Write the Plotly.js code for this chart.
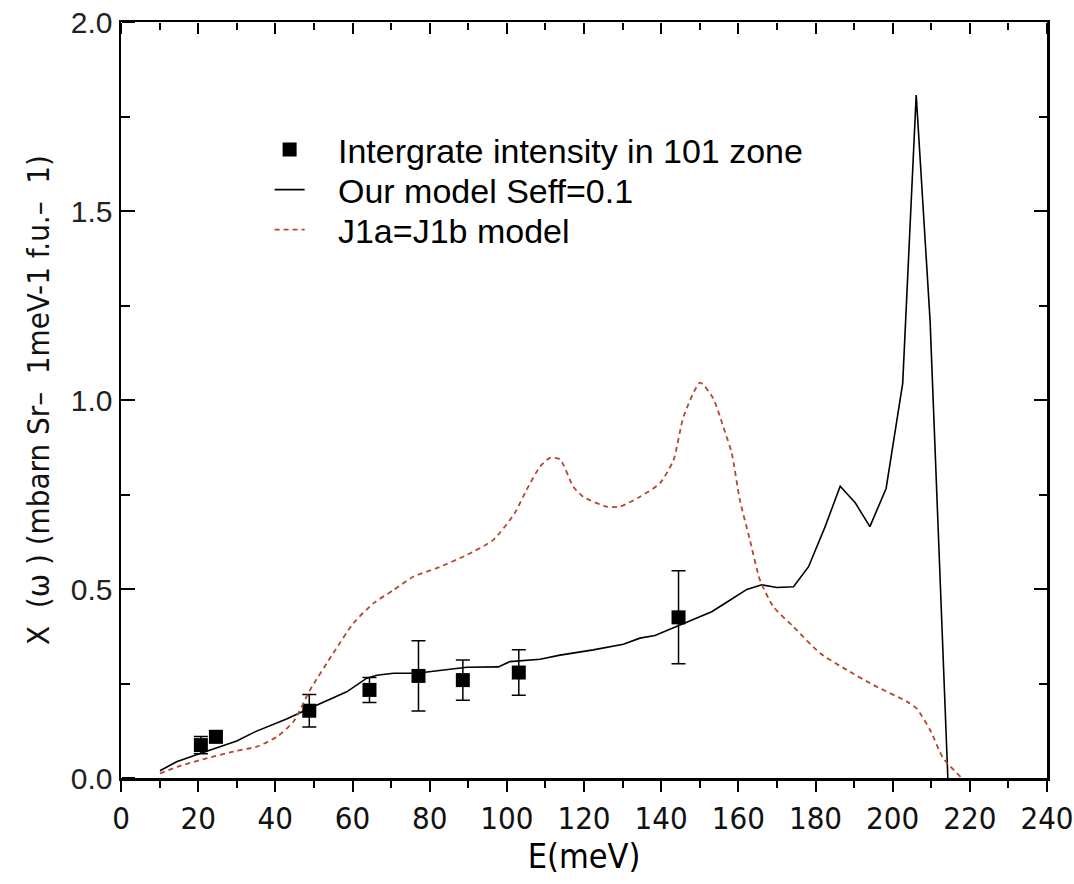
<!DOCTYPE html>
<html>
<head>
<meta charset="utf-8">
<script src="https://cdn.plot.ly/plotly-3.0.1.min.js"></script>
<style>html,body{margin:0;padding:0;background:#fff;}#chart{width:1074px;height:884px;}</style>
</head>
<body>
<div id="chart"></div>
<script>
// Measured data points (Intergrate intensity in 101 zone)
const dataE   = [20.7, 24.6, 48.8, 64.4, 77.1, 88.6, 103.1, 144.5];
const dataI   = [0.087, 0.109, 0.178, 0.233, 0.270, 0.259, 0.279, 0.425];
const dataErr = [0.023, 0.015, 0.043, 0.033, 0.093, 0.053, 0.060, 0.123];

// Our model Seff=0.1
const modelE = [10.1, 14.4, 20.5, 30.0, 34.7, 42.9, 48.8, 58.5, 63.7, 66.3, 70.6, 76.6, 89.6, 97.8, 100.8, 108.6, 113.8, 122.4, 130.2, 134.5, 138.4, 144.9, 153.1, 157.9, 162.2, 166.1, 170.0, 174.3, 178.2, 182.5, 186.4, 190.3, 194.1, 198.3, 202.6, 206.1, 209.7, 214.3];
const modelI = [0.019, 0.043, 0.065, 0.098, 0.122, 0.156, 0.184, 0.228, 0.264, 0.272, 0.277, 0.277, 0.293, 0.294, 0.308, 0.314, 0.325, 0.339, 0.354, 0.370, 0.377, 0.405, 0.440, 0.471, 0.499, 0.511, 0.504, 0.506, 0.559, 0.665, 0.772, 0.728, 0.665, 0.766, 1.044, 1.807, 1.210, 0.000];

// J1a=J1b model
const j1E = [10.1, 15.3, 22.2, 29.1, 35.2, 40.4, 44.7, 49.0, 55.0, 60.2, 65.4, 70.6, 75.8, 81.8, 89.6, 96.5, 102.0, 105.0, 108.6, 111.2, 113.8, 117.2, 119.8, 125.9, 129.3, 134.5, 139.7, 143.2, 145.8, 150.1, 153.5, 156.1, 158.3, 160.4, 163.0, 165.6, 169.1, 174.3, 181.2, 188.1, 195.0, 203.7, 206.2, 209.7, 213.1, 217.6];
const j1I = [0.012, 0.032, 0.052, 0.070, 0.083, 0.109, 0.149, 0.233, 0.330, 0.409, 0.462, 0.497, 0.533, 0.555, 0.590, 0.630, 0.700, 0.760, 0.824, 0.847, 0.843, 0.771, 0.744, 0.718, 0.718, 0.744, 0.780, 0.841, 0.956, 1.046, 1.004, 0.929, 0.859, 0.735, 0.630, 0.524, 0.453, 0.400, 0.330, 0.286, 0.246, 0.202, 0.184, 0.127, 0.052, 0.003];

const seriesNames = ['Intergrate intensity in 101 zone', 'Our model Seff=0.1', 'J1a=J1b model'];

const xTickVals = [0,20,40,60,80,100,120,140,160,180,200,220,240];
const yTickVals = [0.0,0.5,1.0,1.5,2.0];

const narrow = 'Liberation Sans Narrow, DejaVu Sans Condensed, Arial Narrow, sans-serif';
const regular = 'Liberation Sans, Arial, sans-serif';
const pad = '\u00a0\u00a0\u00a0';

const traces = [
  {
    x: dataE, y: dataI, type: 'scatter', mode: 'markers',
    name: pad + seriesNames[0], legend: 'legend',
    marker: {symbol: 'square', size: 14, color: '#000'},
    error_y: {type: 'data', array: dataErr, visible: true, color: '#000', thickness: 1.5, width: 7}
  },
  {
    x: modelE, y: modelI, type: 'scatter', mode: 'lines',
    name: pad + seriesNames[1], legend: 'legend2',
    line: {color: '#000', width: 1.6}
  },
  {
    x: j1E, y: j1I, type: 'scatter', mode: 'lines',
    name: pad + seriesNames[2], legend: 'legend3',
    line: {color: '#b5472f', width: 1.8, dash: '5px,4px', shape: 'spline', smoothing: 0.6}
  },
  // invisible helpers so the extra tick-only axes are rendered
  {x: [modelE[0]], y: [modelI[0]], xaxis: 'x', yaxis: 'y2', type: 'scatter', mode: 'markers',
   marker: {opacity: 0}, showlegend: false, hoverinfo: 'skip'},
  {x: [modelE[0]], y: [modelI[0]], xaxis: 'x3', yaxis: 'y', type: 'scatter', mode: 'markers',
   marker: {opacity: 0}, showlegend: false, hoverinfo: 'skip'}
];

function leg(y) {
  return {
    x: 0.1605, y: y, xanchor: 'left', yanchor: 'middle',
    bgcolor: 'rgba(0,0,0,0)', borderwidth: 0,
    font: {family: regular, size: 34, color: '#000'}
  };
}

const layout = {
  width: 1074, height: 884,
  margin: {l: 121, r: 27, t: 22, b: 106},
  showlegend: true,
  legend: leg(0.8307),
  legend2: leg(0.7778),
  legend3: leg(0.7249),
  xaxis: {
    range: [0, 240], tickvals: xTickVals,
    ticks: 'outside', ticklen: 11, tickwidth: 2, tickcolor: '#000',
    minor: {dtick: 10, ticks: 'outside', ticklen: 7, tickwidth: 2, tickcolor: '#000'},
    showline: true, linewidth: 2.5, linecolor: '#000', mirror: true,
    showgrid: false, zeroline: false,
    tickfont: {family: narrow, size: 31, color: '#111'},
    title: {text: 'E(meV)', font: {family: narrow, size: 34, color: '#000'}, standoff: 10}
  },
  // tick-only axis sitting on the top edge, ticks pointing down into the plot
  xaxis3: {
    overlaying: 'x', side: 'bottom', anchor: 'free', position: 1, range: [0, 240],
    tickvals: xTickVals, showticklabels: false,
    ticks: 'outside', ticklen: 11, tickwidth: 2, tickcolor: '#000',
    minor: {dtick: 10, ticks: 'outside', ticklen: 7, tickwidth: 2, tickcolor: '#000'},
    showline: false, showgrid: false, zeroline: false
  },
  yaxis: {
    range: [0, 2.0], tickvals: yTickVals, tickformat: '.1f',
    ticks: 'inside', ticklen: 13, tickwidth: 2, tickcolor: '#000',
    minor: {dtick: 0.25, ticks: 'inside', ticklen: 8, tickwidth: 2, tickcolor: '#000'},
    showline: true, linewidth: 2.5, linecolor: '#000', mirror: 'ticks',
    showgrid: false, zeroline: false,
    tickfont: {family: regular, size: 30, color: '#222'},
    title: {text: 'X  (ω ) (mbarn Sr–  1meV-1 f.u.–  1)', font: {family: narrow, size: 31, color: '#111'}, standoff: 12}
  },
  // tick-only axis sitting on the left edge, ticks pointing right into the plot
  yaxis2: {
    overlaying: 'y', side: 'right', anchor: 'free', position: 0, range: [0, 2.0],
    tickvals: yTickVals, showticklabels: false,
    ticks: 'outside', ticklen: 13, tickwidth: 2, tickcolor: '#000',
    minor: {dtick: 0.25, ticks: 'outside', ticklen: 8, tickwidth: 2, tickcolor: '#000'},
    showline: false, showgrid: false, zeroline: false
  }
};

Plotly.newPlot('chart', traces, layout, {displayModeBar: false, staticPlot: true});
</script>
</body>
</html>
